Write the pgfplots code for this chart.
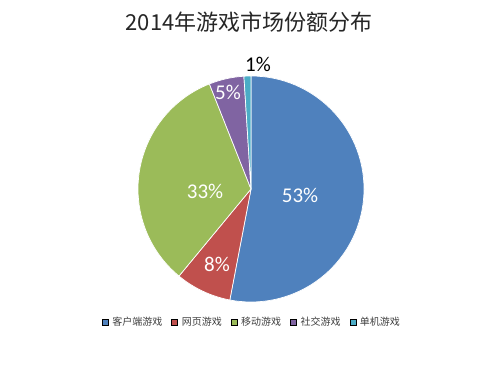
\documentclass[border=0pt]{standalone}
\usepackage{pgfplots}
\usepackage{pgfplotstable}
\pgfplotsset{compat=1.18}
\usepackage{fontspec}
\setmainfont{Carlito}
\newfontfamily\cjk{Noto Sans CJK SC}
\definecolor{cA}{HTML}{4F81BD}
\definecolor{cB}{HTML}{C0504D}
\definecolor{cC}{HTML}{9BBB59}
\definecolor{cD}{HTML}{8064A2}
\definecolor{cE}{HTML}{4BACC6}
\newcommand\lblfont{\fontsize{21bp}{21bp}\selectfont}
% value, colour, label position (px from left, px from bottom), label colour
\pgfplotstableread{
value color lx ly lc
53 cA 300 171 white
8  cB 217 102 white
33 cC 205 175 white
5  cD 228 274 white
1  cE 258 302 black
}\piedata
\begin{document}
\begin{tikzpicture}
\begin{axis}[
  width=500bp, height=366bp, scale only axis,
  xmin=0, xmax=500, ymin=0, ymax=366,
  hide axis, clip=false,
  legend image code/.code={\fill[#1] (0bp,-3bp) rectangle (6bp,3bp); \path (8bp,0bp);},
  legend style={at={(axis cs:252,44)}, anchor=center, legend columns=5,
    draw=none, fill=none, text=black!75,
    font=\cjk\fontsize{10bp}{11bp}\selectfont,
    /tikz/every even column/.append style={column sep=7bp}},
]
\fill[white] (axis cs:0,0) rectangle (axis cs:500,366);
\pgfplotstablegetrowsof{\piedata}
\pgfmathtruncatemacro\N{\pgfplotsretval-1}
\def\cum{0}
\pgfplotsforeachungrouped \i in {0,...,\N}{%
  \pgfplotstablegetelem{\i}{value}\of\piedata \let\v\pgfplotsretval
  \pgfplotstablegetelem{\i}{color}\of\piedata \let\c\pgfplotsretval
  \pgfplotstablegetelem{\i}{lx}\of\piedata \let\lx\pgfplotsretval
  \pgfplotstablegetelem{\i}{ly}\of\piedata \let\ly\pgfplotsretval
  \pgfplotstablegetelem{\i}{lc}\of\piedata \let\lc\pgfplotsretval
  \pgfmathsetmacro\a{90-\cum*3.6}%
  \pgfmathsetmacro\b{90-(\cum+\v)*3.6}%
  \edef\temp{\noexpand\fill[\c, draw=white, line width=0.7pt, line join=round]
    (axis cs:251,177) -- ++(\a:113bp) arc[start angle=\a, end angle=\b, radius=113bp] -- cycle;
    \noexpand\node[text=\lc, font=\noexpand\lblfont] at (axis cs:\lx,\ly) {\v\noexpand\%};}%
  \temp
  \pgfmathsetmacro\cum{\cum+\v}%
}
\addlegendimage{fill=cA}\addlegendentry{客户端游戏}
\addlegendimage{fill=cB}\addlegendentry{网页游戏}
\addlegendimage{fill=cC}\addlegendentry{移动游戏}
\addlegendimage{fill=cD}\addlegendentry{社交游戏}
\addlegendimage{fill=cE}\addlegendentry{单机游戏}
\node[font=\cjk\fontsize{22bp}{22bp}\selectfont, text=black!85] at (axis cs:249,343.5) {2014年游戏市场份额分布};
\end{axis}
\end{tikzpicture}
\end{document}
